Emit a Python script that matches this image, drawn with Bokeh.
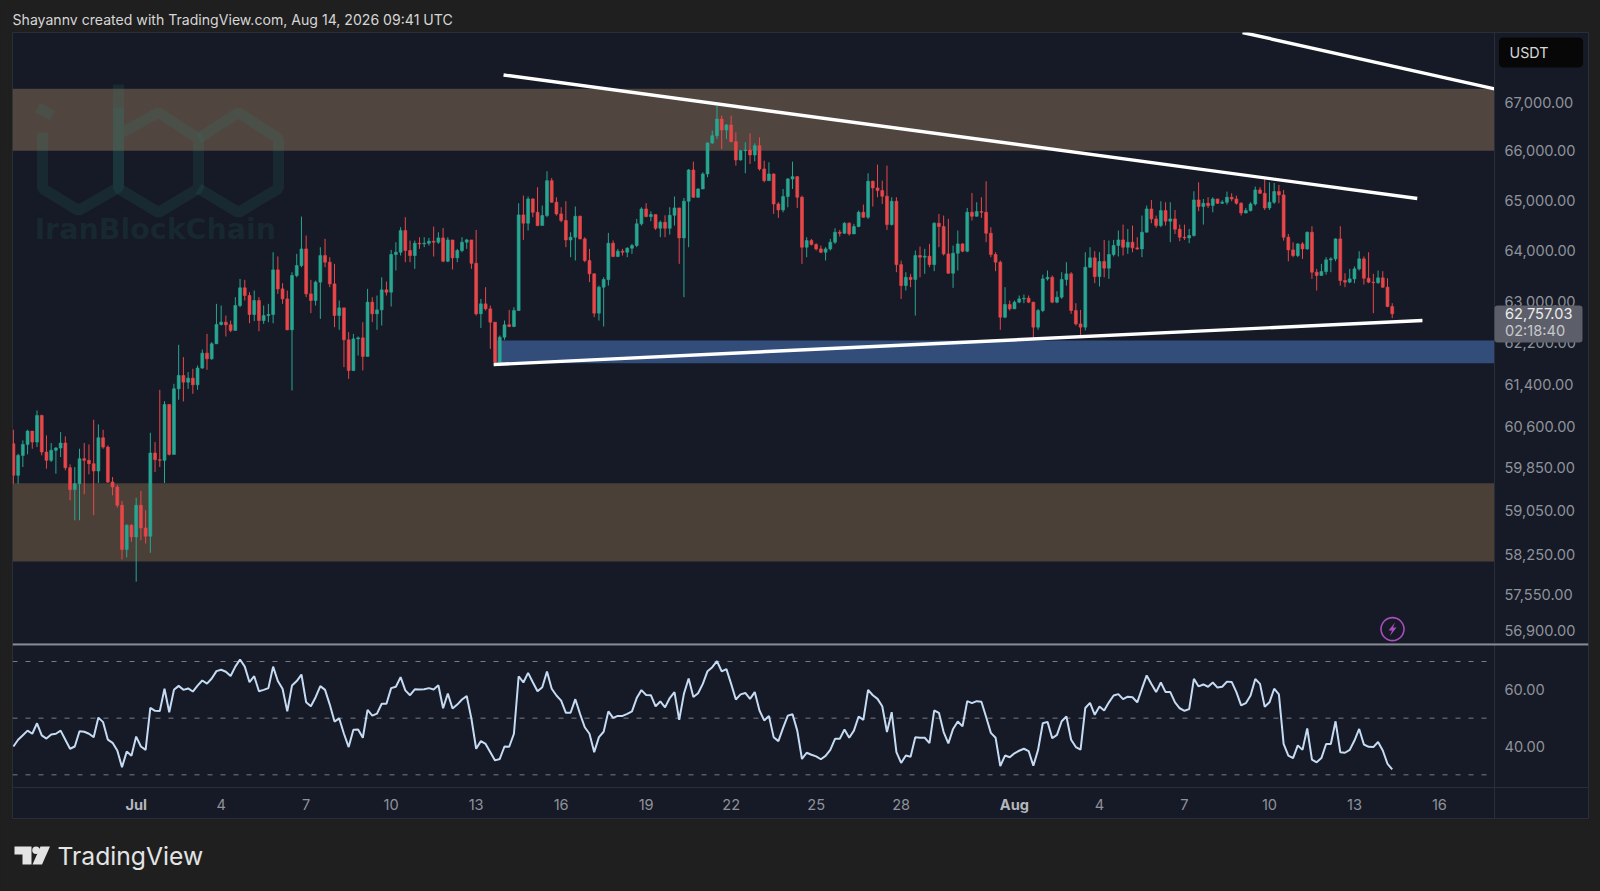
import math
from bokeh.plotting import figure
from bokeh.layouts import column
from bokeh.embed import file_html
from bokeh.resources import INLINE
from bokeh.core.properties import value
from bokeh.models import (Range1d, FixedTicker, NumeralTickFormatter, LinearAxis,
                          BoxAnnotation, Label, Span)

closes = [59701,60070,60274,60523,60318,60817,60132,59978,60164,60207,
60300,59842,59438,59547,60008,59978,59916,59781,60399,60225,
59578,59487,59151,58348,58787,58576,59151,58739,58588,60114,
59990,59978,61024,60089,61319,61573,61446,61522,61395,61713,
61999,61890,62178,62551,62595,62545,62435,62919,63263,63113,
62744,63016,62627,62724,62744,63616,63243,63048,62448,63505,
63701,64030,63146,63016,63375,63898,63767,63341,62724,62873,
62255,61668,62273,62293,61936,62984,62757,62834,63224,63178,
63918,63964,64393,63997,63898,64142,64129,64142,64182,64162,
64248,63786,64208,63853,63997,64162,64208,63745,62757,62951,
62854,62595,61828,62306,62545,62512,62821,64706,64540,65026,
64759,64493,64693,65395,64960,64726,64593,64208,64261,64679,
64228,63800,63538,62770,63276,63427,64142,63880,63984,63964,
64043,64096,64527,64826,64672,64712,64440,64559,64440,64699,
64846,64248,64980,65611,65060,65227,65530,66161,66311,66652,
66427,66529,66188,65814,66004,66017,65916,66106,65632,65395,
65530,64926,64806,65074,65429,65476,65060,64063,64195,64116,
64030,63964,64030,64162,64360,64340,64540,64327,64473,64759,
64660,65382,65248,65194,65080,64513,64980,63719,63308,63470,
63427,63898,63866,63886,63719,64540,64473,63931,63550,63944,
64129,63984,64759,64679,64773,64759,64340,63918,63767,62692,
62938,62854,62984,63048,63061,62984,62499,62821,63439,63470,
62984,63081,63427,63538,62821,62562,62499,63668,63853,63483,
63780,63649,63918,64096,64208,64063,64162,64050,64030,64360,
64826,64626,64493,64792,64580,64626,64420,64261,64248,64294,
65006,64873,64939,64893,65026,64939,64960,65060,65026,64939,
64745,64792,64926,65208,65140,64846,64960,65174,65107,64261,
64010,63898,64129,64030,64360,63570,63505,63583,63813,63833,
64228,63406,63375,63439,63636,63833,63452,63375,63365,63459,
63276,62899,62757.03]

highs = [60548,60100,60349,60548,60523,60910,60830,60443,60300,60225,
60504,60424,59904,59855,60194,60300,60274,60736,60648,60548,
60256,59670,59529,59230,58805,58805,59291,59413,59060,60492,
60318,61301,61086,61024,61414,62159,61923,61636,61700,61763,
62069,62370,62210,62951,62919,62724,62627,63081,63439,63420,
63178,63211,63081,62919,62951,63964,63880,63354,63211,63570,
63931,64672,64294,63420,63406,64063,64228,63866,63734,63016,
62873,62402,62370,62319,62595,63243,63081,63113,63470,63387,
64010,64162,64460,64660,64195,64195,64261,64261,64248,64473,
64360,64446,64261,64195,64030,64261,64228,64195,64406,63048,
63276,62919,62595,62340,62627,62834,62886,64939,65093,65074,
65040,65262,64893,65584,65449,65060,64859,64980,64360,64873,
64693,64261,64030,63550,63308,63470,64347,64195,64030,64030,
64063,64129,64626,64859,64939,64779,64712,64593,64699,64859,
65074,64846,65047,65632,65780,65240,65565,66174,66413,66927,
66721,66550,66721,66378,66020,66174,66358,66153,66276,65800,
65767,65540,64960,65227,65449,65780,65490,65093,64261,64228,
64142,64096,64063,64228,64440,64406,64559,64559,64527,64792,
64913,65544,65395,65720,65395,65699,65060,65060,63800,63570,
63538,63997,64076,64030,64129,64559,64726,64693,64626,64096,
64394,64142,64846,65147,64960,65060,65382,64460,63964,63800,
63276,63016,63016,63113,63133,63113,62990,62854,63523,63603,
63505,63198,63570,63767,63570,62964,62834,63964,64063,63984,
63964,64208,64195,64208,64393,64513,64426,64493,64261,64693,
64893,65006,64693,64980,64960,64960,64806,64513,64513,64426,
65181,65362,65026,65060,65060,65026,65000,65174,65140,65093,
64960,64846,64960,65275,65262,65443,65362,65349,65308,65208,
64327,64162,64142,64162,64373,64480,63636,63734,63866,63866,
64240,64480,63550,63636,63682,63984,63880,63964,63538,63603,
63590,63452,62964]

lows = [59547,59547,59855,60089,60194,60225,60070,59824,59947,59731,
60040,59793,59242,58878,58878,59352,59719,58969,59559,60194,
59559,59333,59108,58169,58205,58487,57770,58516,58456,58289,
59763,59855,59559,60070,60100,61112,61081,61319,61225,61301,
61700,61680,61872,62178,62531,62319,62402,62448,62886,63016,
62575,62615,62420,62562,62595,62575,63146,62951,62440,61288,
63470,63668,63081,62770,62919,62660,63668,63276,62499,62448,
61731,61509,61655,61954,61668,61936,62595,62448,62531,63113,
62899,63603,63898,63767,63767,63636,64030,64063,64096,63880,
64129,63767,63767,63623,63767,63964,64030,63636,62724,62485,
62821,62081,61795,61858,62255,62499,62499,62821,64208,64394,
64660,64480,64527,64660,64950,64693,64559,64063,63866,63800,
64220,63767,63375,62692,62627,62512,63308,63866,63866,63898,
63866,63931,64063,64493,64660,64580,64406,64261,64261,64314,
64493,63734,63081,64063,65050,65050,65227,65463,66140,66243,
66038,66243,66174,65699,65800,65544,65733,65787,65598,65362,
65409,64726,64647,64759,64859,65227,64846,63734,63866,64096,
63997,63944,63800,63997,64129,64274,64327,64294,64327,64460,
64650,64626,64873,65060,64926,64406,64493,63570,63048,63211,
63276,62724,63470,63538,63668,63590,64063,63898,63538,63263,
63603,63964,63964,64593,64672,64647,64162,63866,63590,62448,
62673,62821,62854,62964,62964,62964,62273,62448,62789,63406,
62964,62964,63048,63308,62757,62531,62306,62435,63655,63354,
63289,63470,63439,63880,63880,63898,63931,63964,64010,63866,
64360,64540,64446,64460,64493,64162,64327,64182,64208,64142,
64274,64779,64513,64846,64759,64926,64926,64913,64980,64913,
64693,64739,64773,64893,65126,64806,64806,64926,64939,64195,
63786,63866,63866,63833,64010,63439,63211,63505,63523,63570,
63786,63308,63276,63354,63354,63603,63328,63354,62770,63341,
63263,62886,62673]

first_open = 60287

rsi_values = [40.0,42.4,44.0,45.6,44.5,48.2,43.9,42.8,44.2,44.5,
45.6,42.4,39.2,40.0,45.4,45.2,44.5,43.3,50.2,48.6,
42.4,41.3,38.6,32.7,38.2,36.7,43.5,40.0,38.8,53.6,
52.6,52.5,60.4,52.1,60.0,61.4,60.0,60.5,59.4,61.5,
63.3,62.2,64.0,66.6,67.1,66.4,64.9,68.2,70.7,68.2,
62.7,64.8,59.5,60.0,60.6,68.2,63.1,60.4,52.4,61.5,
63.1,65.4,55.6,54.2,57.4,61.3,60.0,54.8,48.8,49.9,
44.5,39.8,45.9,46.0,43.1,52.9,50.9,51.6,55.1,55.1,
60.6,61.1,64.5,59.8,58.1,60.2,60.1,60.2,60.6,60.1,
61.6,53.5,58.7,53.4,54.8,56.6,57.8,49.8,39.2,41.9,
40.9,38.0,35.1,35.6,40.0,39.9,44.5,64.8,62.6,66.0,
62.7,59.5,60.9,66.5,60.4,58.0,56.2,51.9,51.9,56.7,
51.5,46.8,44.5,38.0,43.3,45.2,52.4,50.1,50.8,50.8,
51.5,52.4,57.1,59.9,58.2,58.1,54.2,55.9,53.8,57.1,
59.2,49.4,58.6,64.0,57.5,58.8,62.1,66.6,68.0,70.1,
66.5,67.3,62.1,56.6,58.4,58.9,56.8,59.2,52.7,49.2,
50.8,43.3,41.9,46.6,50.9,51.4,45.6,35.6,37.8,37.1,
36.5,35.5,36.7,38.8,42.7,42.7,46.0,43.1,45.6,50.6,
49.4,60.0,58.1,56.8,54.2,45.1,52.1,38.0,34.2,36.8,
36.4,43.3,43.1,43.1,41.2,52.7,51.9,45.1,41.1,46.2,
48.8,47.1,56.0,55.3,56.0,55.8,50.4,44.8,43.1,33.1,
36.8,36.2,37.6,38.5,39.2,38.4,33.2,38.8,48.2,48.7,
42.9,44.1,48.9,50.6,42.4,39.8,38.9,53.6,55.4,51.2,
54.1,52.7,55.6,58.0,58.5,56.7,57.6,57.4,55.6,60.4,
65.1,62.1,59.2,62.6,59.2,59.2,55.6,53.5,52.6,53.2,
63.9,61.2,61.9,61.1,62.6,60.8,61.1,62.9,62.8,59.2,
54.5,55.3,58.0,63.8,62.1,54.0,55.6,60.4,58.4,40.9,
36.8,35.9,40.4,38.8,46.4,35.4,34.4,35.9,40.9,40.9,
48.9,38.0,37.8,38.8,42.1,46.2,40.7,39.9,39.8,41.6,
38.6,33.9,31.9]

price_ticks = [67000,66000,65000,64000,63000,62200,61400,60600,59850,59050,58250,57550,56900]
rsi_ticks = [60,40]
rsi_levels = [70,50,30]
date_ticks = {44:"4",62:"7",80:"10",98:"13",116:"16",134:"19",152:"22",170:"25",188:"28",
              230:"4",248:"7",266:"10",284:"13",302:"16"}
month_ticks = {26:"Jul",212:"Aug"}

# price zones and trend lines, in (candle index, price)
upper_zone = (67278, 66000)
lower_zone = (59556, 58131)
blue_zone = (62240, 61808)
blue_start = 102.5
trend_far = ([260.3, 313.66], [68459, 67278])
trend_upper = ([103.8, 297.3], [67566, 65035])
trend_lower = ([101.7, 298.4], [61781, 62628])

BG = "#1f1f1f"
PANE = "#151a26"
AXIS = "#2a2e39"
TXT = "#8f929b"
GREEN = "#29a692"
RED = "#e8474a"
FONT = "Inter"
AXIS_SIZE = "14.6px"

X0, STEP = 12.9, 4.722
X_START = (12 - X0) / STEP
X_END = (1588 - X0) / STEP
PANE_END = (1494 - X0) / STEP

def ix(px):
    return (px - X0) / STEP

def pr(py):
    return 67000 * math.exp((101.7 - py) / 3235)

def rv(py):
    return 50 + (717.67 - py) / 2.833

n = len(closes)
xs = list(range(n))
opens = [first_open] + closes[:-1]
colors = [GREEN if c >= o else RED for o, c in zip(opens, closes)]
shared_x = Range1d(X_START, X_END)

# header
header = figure(width=1600, height=32, x_range=Range1d(12, 1588), y_range=Range1d(32, 0),
                x_axis_location=None, y_axis_location=None, toolbar_location=None,
                output_backend="svg", min_border=0, min_border_left=12, min_border_right=12,
                background_fill_color=BG, border_fill_color=BG, outline_line_color=None)
header.grid.visible = False
header.text(x=[12], y=[18.5], text=["Shayannv created with TradingView.com, Aug 14, 2026 09:41 UTC"],
            text_font=value(FONT), text_font_size="14.1px", text_color="#d6d6d6",
            text_baseline="middle", text_align="left")

# main pane
main = figure(width=1600, height=612, x_range=shared_x, y_range=Range1d(pr(644), pr(32)),
              y_axis_type="log", y_axis_location="right", x_axis_location=None,
              toolbar_location=None, output_backend="svg", min_border_left=12, min_border_right=12,
              min_border_top=0, min_border_bottom=0, background_fill_color=PANE,
              border_fill_color=BG, outline_line_color=AXIS)
main.grid.visible = False
ya = main.yaxis[0]
ya.ticker = FixedTicker(ticks=price_ticks)
ya.formatter = NumeralTickFormatter(format="0,0.00")
ya.fixed_location = PANE_END
ya.major_tick_line_color = None
ya.major_tick_in = 0
ya.major_tick_out = 0
ya.minor_tick_line_color = None
ya.axis_line_color = AXIS
ya.major_label_text_color = TXT
ya.major_label_text_font = FONT
ya.major_label_text_font_size = AXIS_SIZE
ya.major_label_standoff = 10

main.quad(left=[X_START], right=[PANE_END], top=[upper_zone[0]], bottom=[upper_zone[1]],
          fill_color="#50463f", line_color=None)
main.quad(left=[X_START], right=[PANE_END], top=[lower_zone[0]], bottom=[lower_zone[1]],
          fill_color="#4a4038", line_color=None)
main.quad(left=[blue_start], right=[PANE_END], top=[blue_zone[0]], bottom=[blue_zone[1]],
          fill_color="#324d7a", line_color=None)

# watermark
wm = [[(118, 107), (118, 187), (78, 210), (42, 188), (42, 132)], [(37, 107), (52, 115)],
      [(118, 84), (118, 188), (158, 212), (198, 188), (198, 138), (158, 112), (118, 134)],
      [(198, 138), (238, 112), (278, 138), (278, 188), (238, 212), (198, 188)]]
main.multi_line(xs=[[ix(a) for a, _ in s] for s in wm], ys=[[pr(b) for _, b in s] for s in wm],
                line_color="#2d8a80", line_alpha=0.14, line_width=11)
main.text(x=[ix(34)], y=[pr(229)], text=["IranBlockChain"], text_font=value("DejaVu Sans"),
          text_font_style="bold", text_font_size="28.5px", text_color="#2d8a80", text_alpha=0.13,
          text_baseline="middle", text_align="left")

# candles
main.segment(x0=xs, y0=lows, x1=xs, y1=highs, line_color=colors, line_width=1)
main.vbar(x=xs, top=[max(o, c) for o, c in zip(opens, closes)],
          bottom=[min(o, c) for o, c in zip(opens, closes)], width=0.62,
          fill_color=colors, line_color=colors, line_width=0.6)

# trend lines
for tx, ty in (trend_far, trend_upper, trend_lower):
    main.line(x=tx, y=ty, line_color="#ffffff", line_width=3.4, line_cap="butt")

# lightning badge
main.scatter(x=[ix(1392)], y=[pr(628.6)], size=23, marker="circle", fill_color=None,
             line_color="#a94dbd", line_width=1.6)
bolt = [(1394.5, 622), (1388, 630), (1391.5, 630), (1389.5, 635.5), (1396, 627), (1392.5, 627)]
main.patch(x=[ix(a) for a, _ in bolt], y=[pr(b) for _, b in bolt], fill_color="#a94dbd", line_color=None)

# USDT box and price tag
main.add_layout(BoxAnnotation(left=ix(1498), right=ix(1583), top=pr(36.7), bottom=pr(67.3),
                              fill_color="#070708", fill_alpha=1, line_color="#2b2c30", line_width=1,
                              border_radius=5))
main.add_layout(Label(x=ix(1509), y=pr(52), text="USDT", text_font=FONT, text_font_size="14.3px",
                      text_color="#d8d8d8", text_baseline="middle"))
main.add_layout(BoxAnnotation(left=ix(1494), right=ix(1582), top=pr(305), bottom=pr(342),
                              fill_color="#5c5f69", fill_alpha=1, line_color=None, border_radius=3))
main.add_layout(Label(x=ix(1504.5), y=pr(312.5), text="62,757.03", text_font=FONT, text_font_size=AXIS_SIZE,
                      text_color="#ececec", text_baseline="middle"))
main.add_layout(Label(x=ix(1504.5), y=pr(330), text="02:18:40", text_font=FONT, text_font_size=AXIS_SIZE,
                      text_color="#c8c8cc", text_baseline="middle"))
main.add_layout(Span(location=pr(644), dimension="width", line_color="#e6e8ee", line_width=1.6))

# RSI pane
rsi = figure(width=1600, height=175, x_range=shared_x, y_range=Range1d(rv(819), rv(644)),
             y_axis_location="right", x_axis_location="below", toolbar_location=None,
             output_backend="svg", min_border_left=12, min_border_right=12, min_border_top=0,
             min_border_bottom=0, background_fill_color=PANE, border_fill_color=BG,
             outline_line_color=AXIS)
rsi.grid.visible = False
ry = rsi.yaxis[0]
ry.ticker = FixedTicker(ticks=rsi_ticks)
ry.formatter = NumeralTickFormatter(format="0.00")
ry.fixed_location = PANE_END
ry.major_tick_line_color = None
ry.major_tick_in = 0
ry.major_tick_out = 0
ry.minor_tick_line_color = None
ry.axis_line_color = AXIS
ry.major_label_text_color = TXT
ry.major_label_text_font = FONT
ry.major_label_text_font_size = AXIS_SIZE
ry.major_label_standoff = 10

rx = rsi.xaxis[0]
rx.ticker = FixedTicker(ticks=list(date_ticks))
rx.major_label_overrides = date_ticks
rx.fixed_location = rv(787)
rx.major_tick_line_color = None
rx.major_tick_in = 0
rx.major_tick_out = 0
rx.minor_tick_line_color = None
rx.axis_line_color = AXIS
rx.major_label_text_color = TXT
rx.major_label_text_font = FONT
rx.major_label_text_font_size = AXIS_SIZE
rx.major_label_standoff = 11

mx = LinearAxis(ticker=FixedTicker(ticks=list(month_ticks)), major_label_overrides=month_ticks,
                fixed_location=rv(787), major_tick_line_color=None, major_tick_in=0, major_tick_out=0,
                minor_tick_line_color=None, axis_line_color=None, major_label_text_color="#b4b6bc",
                major_label_text_font=FONT, major_label_text_font_style="bold",
                major_label_text_font_size=AXIS_SIZE, major_label_standoff=8)
rsi.add_layout(mx, "below")

rsi.segment(x0=[X_START] * 3, x1=[PANE_END] * 3, y0=rsi_levels, y1=rsi_levels,
            line_color="#787b84", line_width=1, line_dash="5 8")
rsi.line(x=xs, y=rsi_values, line_color="#c5daf3", line_width=2)
rsi.add_layout(Span(location=rv(644), dimension="width", line_color="#e6e8ee", line_width=1.6))

# footer with the TradingView mark
footer = figure(width=1600, height=72, x_range=Range1d(12, 1588), y_range=Range1d(891, 819),
                x_axis_location=None, y_axis_location=None, toolbar_location=None,
                output_backend="svg", min_border=0, min_border_left=12, min_border_right=12,
                background_fill_color=BG, border_fill_color=BG, outline_line_color=None)
footer.grid.visible = False
t_shape = [(14, 846), (31, 846), (31, 864), (22, 864), (22, 854), (14, 854)]
slash = [(40, 846), (49.5, 846), (41.5, 864), (32, 864)]
footer.patch(x=[a for a, _ in t_shape], y=[b for _, b in t_shape], fill_color="#e4e4e4", line_color=None)
footer.patch(x=[a for a, _ in slash], y=[b for _, b in slash], fill_color="#e4e4e4", line_color=None)
footer.scatter(x=[35.5], y=[849.8], size=7.5, marker="circle", fill_color="#e4e4e4", line_color=None)
footer.text(x=[57], y=[855], text=["TradingView"], text_font=value("Inter"), text_font_style="normal",
            text_font_size="24.7px", text_color="#e4e4e4", text_baseline="middle", text_align="left")

page = column(header, main, rsi, footer, spacing=0)
html = file_html(page, INLINE, title="BTCUSDT")
html = html.replace("</head>", "<style>html,body{background:#1f1f1f;margin:0;overflow:hidden}</style></head>")
open("out.html", "w").write(html)
